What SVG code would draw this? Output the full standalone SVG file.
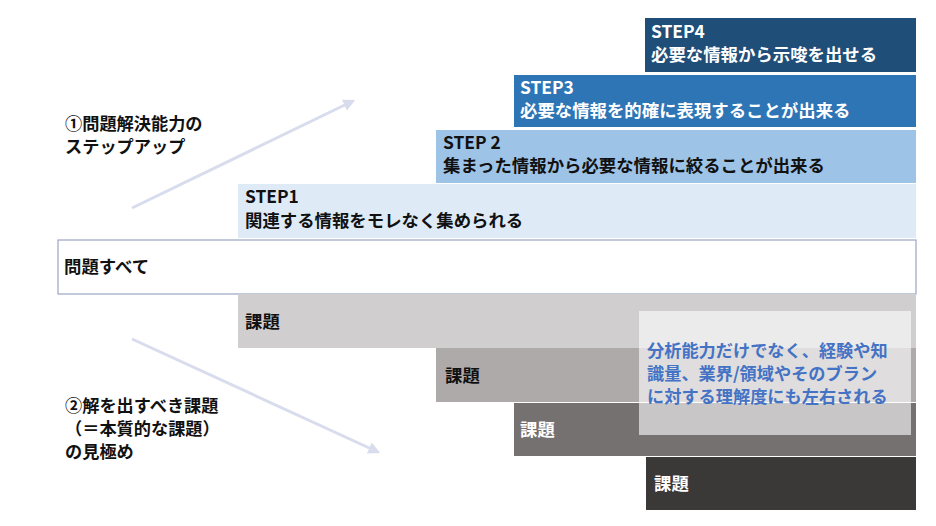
<svg xmlns="http://www.w3.org/2000/svg" width="936" height="526" viewBox="0 0 936 526">
<style>
text{font-family:"Noto Sans CJK JP","Noto Sans",sans-serif;font-weight:bold;font-size:17.4px}
.ml{font-size:17.2px}
.w{fill:#ffffff}
.k{fill:#111111}
.b{fill:#4472c4}
</style>
<defs>
<marker id="ah" viewBox="0 0 10 10" refX="8" refY="5" markerWidth="4" markerHeight="4" orient="auto">
<path d="M0,0 L10,5 L0,10 z" fill="#d9dcec"/>
</marker>
</defs>
<rect width="936" height="526" fill="#ffffff"/>
<g id="connectors">
<line x1="132" y1="208" x2="353" y2="101" stroke="#d9dcec" stroke-width="3" marker-end="url(#ah)"/>
<line x1="132" y1="339" x2="378" y2="452" stroke="#d9dcec" stroke-width="3" marker-end="url(#ah)"/>
</g>
<g id="step4">
<rect x="645" y="18" width="271" height="54" fill="#1f4e79"/>
<text class="w" x="651" y="38">STEP4</text>
<text class="w" x="651" y="61">必要な情報から示唆を出せる</text>
</g>
<g id="step3">
<rect x="514" y="75" width="402" height="52" fill="#2e75b6"/>
<text class="w" x="520" y="94">STEP3</text>
<text class="w" x="520" y="117">必要な情報を的確に表現することが出来る</text>
</g>
<g id="step2">
<rect x="436" y="130" width="480" height="53" fill="#9dc3e6"/>
<text class="k" x="443" y="149">STEP 2</text>
<text class="k" x="443" y="172">集まった情報から必要な情報に絞ることが出来る</text>
</g>
<g id="step1">
<rect x="238" y="184" width="678" height="54" fill="#deebf7"/>
<text class="k" x="245" y="203">STEP1</text>
<text class="k" x="245" y="227">関連する情報をモレなく集められる</text>
</g>
<g id="all">
<rect x="58" y="240" width="858" height="54" fill="#ffffff" stroke="#9aa6c4" stroke-width="1.2"/>
<text class="k" x="64" y="273">問題すべて</text>
</g>
<g id="issue1">
<rect x="238" y="294" width="678" height="54" fill="#d0cece"/>
<text class="k" x="245" y="328">課題</text>
</g>
<g id="issue2">
<rect x="436" y="348" width="480" height="54" fill="#aeaaaa"/>
<text class="k" x="445" y="382">課題</text>
</g>
<g id="issue3">
<rect x="514" y="403" width="402" height="53" fill="#767171"/>
<text class="w" x="520" y="436">課題</text>
</g>
<g id="issue4">
<rect x="646" y="457" width="270" height="53" fill="#3b3838"/>
<text class="w" x="654" y="490">課題</text>
</g>
<g id="note">
<rect x="639" y="311" width="272" height="124" fill="#ffffff" fill-opacity="0.6"/>
<text class="b ml" x="647" y="357">分析能力だけでなく、経験や知</text>
<text class="b ml" x="647" y="380">識量、業界/領域やそのブラン</text>
<text class="b ml" x="647" y="403">に対する理解度にも左右される</text>
</g>
<g id="label1">
<text class="k ml" x="65" y="129.5">①問題解決能力の</text>
<text class="k ml" x="65" y="152.5">ステップアップ</text>
</g>
<g id="label2">
<text class="k ml" x="65" y="411.5">②解を出すべき課題</text>
<text class="k ml" x="65" y="434.5">（＝本質的な課題）</text>
<text class="k ml" x="65" y="457.5">の見極め</text>
</g>
</svg>
